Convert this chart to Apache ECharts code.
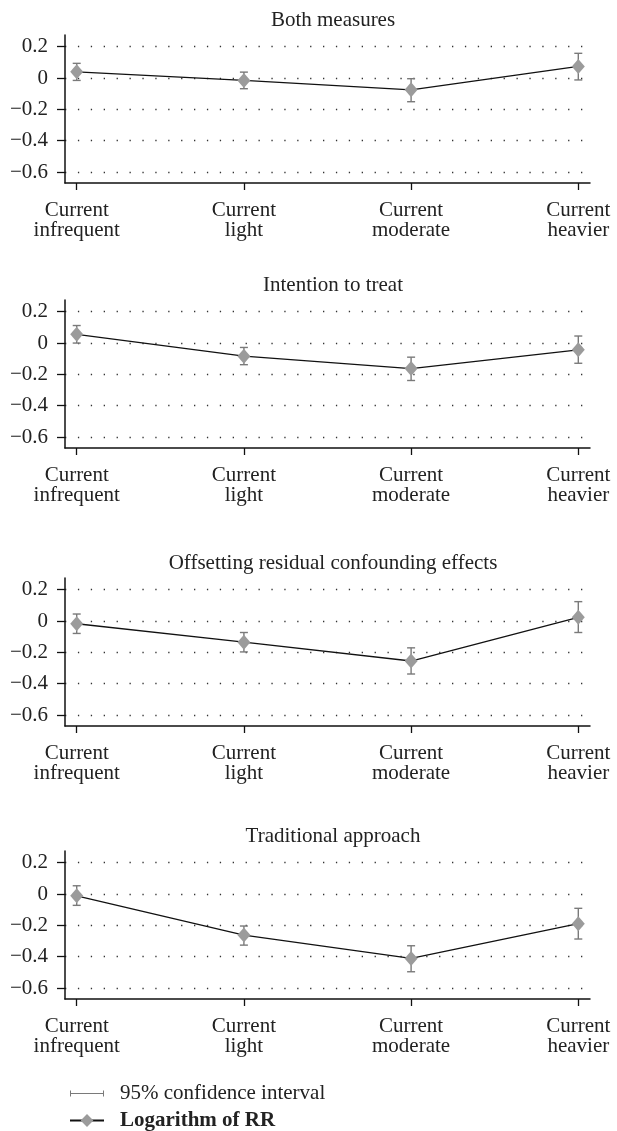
<!DOCTYPE html>
<html>
<head>
<meta charset="utf-8">
<script src="https://cdn.jsdelivr.net/npm/echarts@6/dist/echarts.min.js"></script>
<style>
html, body { margin: 0; padding: 0; background: #fff; }
#main { width: 617px; height: 1131px; }
</style>
</head>
<body>
<div id="main"></div>
<script>
// categories and tick labels
var categories = ['Current\ninfrequent', 'Current\nlight', 'Current\nmoderate', 'Current\nheavier'];
var yTicks = [0.2, 0, -0.2, -0.4, -0.6];
var yTickLabels = ['0.2', '0', '\u22120.2', '\u22120.4', '\u22120.6'];
var panelTitles = ['Both measures', 'Intention to treat', 'Offsetting residual confounding effects', 'Traditional approach'];

// Both measures
var logRR1 = [0.040, -0.015, -0.075, 0.074];
var ciLow1 = [-0.015, -0.068, -0.151, -0.012];
var ciHigh1 = [0.094, 0.038, -0.004, 0.158];
// Intention to treat
var logRR2 = [0.056, -0.084, -0.163, -0.043];
var ciLow2 = [0.000, -0.138, -0.239, -0.129];
var ciHigh2 = [0.112, -0.028, -0.090, 0.045];
// Offsetting residual confounding effects
var logRR3 = [-0.017, -0.135, -0.255, 0.024];
var ciLow3 = [-0.079, -0.197, -0.338, -0.073];
var ciHigh3 = [0.045, -0.073, -0.171, 0.124];
// Traditional approach
var logRR4 = [-0.011, -0.262, -0.411, -0.189];
var ciLow4 = [-0.072, -0.326, -0.496, -0.287];
var ciHigh4 = [0.053, -0.204, -0.330, -0.091];

var logRRs = [logRR1, logRR2, logRR3, logRR4];
var ciLows = [ciLow1, ciLow2, ciLow3, ciLow4];
var ciHighs = [ciHigh1, ciHigh2, ciHigh3, ciHigh4];

var FONT = 'Liberation Serif';
var TEXT = '#222';
var panelTops = [35, 300, 578, 851];

function yLabel(v) {
	for (var k = 0; k < yTicks.length; k++) {
		if (Math.abs(yTicks[k] - v) < 1e-6) {
			return yTickLabels[k];
		}
	}
	return '';
}

// error bar with caps
function renderCI(params, api) {
	var x = api.value(0);
	var top = api.coord([x, api.value(2)]);
	var bottom = api.coord([x, api.value(1)]);
	var half = 4;
	var style = { stroke: '#7a7a7a', lineWidth: 1.4 };
	return {
		type : 'group',
		children : [
			{ type : 'line', shape : { x1 : top[0], y1 : top[1], x2 : bottom[0], y2 : bottom[1] }, style : style },
			{ type : 'line', shape : { x1 : top[0] - half, y1 : top[1], x2 : top[0] + half, y2 : top[1] }, style : style },
			{ type : 'line', shape : { x1 : bottom[0] - half, y1 : bottom[1], x2 : bottom[0] + half, y2 : bottom[1] }, style : style }
		]
	};
}

var grids = [], xAxes = [], yAxes = [], series = [], titles = [];
for (var i = 0; i < 4; i++) {
	grids.push({ left : 65, right : 27, top : panelTops[i], height : 148 });
	xAxes.push({
		type : 'value',
		gridIndex : i,
		min : -0.07,
		max : 3.07,
		axisLine : { show : true, onZero : false, lineStyle : { color : '#111', width : 1.5 } },
		axisTick : { show : true, customValues : [0, 1, 2, 3], length : 7, lineStyle : { color : '#111', width : 1.3 } },
		axisLabel : {
			customValues : [0, 1, 2, 3],
			formatter : function(v) { return categories[Math.round(v)]; },
			margin : 17,
			fontFamily : FONT, fontSize : 21, lineHeight : 20, color : TEXT
		},
		splitLine : { show : false }
	});
	yAxes.push({
		type : 'value',
		gridIndex : i,
		min : -0.67,
		max : 0.275,
		axisLine : { show : true, onZero : false, lineStyle : { color : '#111', width : 1.5 } },
		axisTick : { show : true, customValues : yTicks, length : 8, lineStyle : { color : '#111', width : 1.3 } },
		axisLabel : {
			customValues : yTicks,
			formatter : yLabel,
			margin : 17,
			fontFamily : FONT, fontSize : 21, color : TEXT
		},
		splitLine : { show : true, lineStyle : { color : '#333', width : 1.3, type : [1.3, 11.6] } }
	});
	series.push({
		name : '95% confidence interval',
		type : 'custom',
		xAxisIndex : i,
		yAxisIndex : i,
		renderItem : renderCI,
		itemStyle : { color : '#7a7a7a' },
		encode : { x : 0, y : [1, 2] },
		data : ciLows[i].map(function(v, j) { return [j, v, ciHighs[i][j]]; }),
		z : 2
	});
	series.push({
		name : 'Logarithm of RR',
		type : 'line',
		xAxisIndex : i,
		yAxisIndex : i,
		symbol : 'diamond',
		symbolSize : [13, 15],
		itemStyle : { color : '#9b9b9b' },
		lineStyle : { color : '#111', width : 1.3 },
		emphasis : { disabled : true },
		data : logRRs[i].map(function(v, j) { return [j, v]; }),
		z : 3
	});
	titles.push({
		type : 'text',
		x : 333,
		y : panelTops[i] - 15,
		style : {
			text : panelTitles[i],
			textAlign : 'center',
			textVerticalAlign : 'middle',
			font : '21px "' + FONT + '"',
			fill : TEXT
		}
	});
}

var ciIcon = 'path://M17,0h0.01v0.01h-0.01z M17,15.99h0.01v0.01h-0.01z M0,5h1v6h-1z M0,7.4h34v1.2h-34z M33,5h1v6h-1z';

var myChart = echarts.init(document.getElementById('main'));
var option = {
	animation : false,
	backgroundColor : '#fff',
	grid : grids,
	xAxis : xAxes,
	yAxis : yAxes,
	graphic : titles,
	legend : {
		orient : 'vertical',
		left : 69,
		bottom : 0,
		padding : 0,
		itemWidth : 34,
		itemHeight : 16,
		itemGap : 6,
		selectedMode : false,
		textStyle : { fontFamily : FONT, fontSize : 21, lineHeight : 20, color : TEXT, padding : [0, 0, 0, 11] },
		data : [
			{ name : '95% confidence interval', icon : ciIcon },
			{ name : 'Logarithm of RR', textStyle : { fontWeight : 'bold' } }
		]
	},
	series : series
};
myChart.setOption(option);
</script>
</body>
</html>
